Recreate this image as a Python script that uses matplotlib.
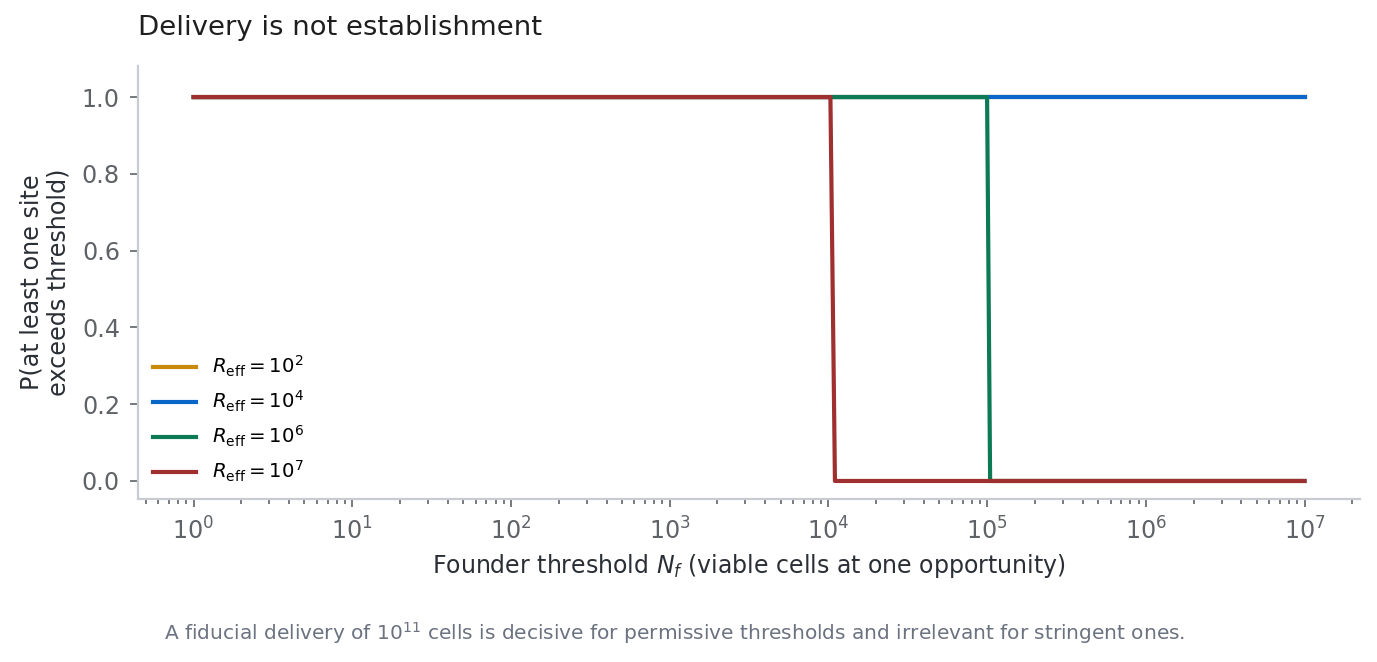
import matplotlib
matplotlib.use("Agg")
import matplotlib.pyplot as plt

# founder threshold grid points and P(at least one site exceeds threshold)
labels = [r"$R_{\rm eff} = 10^2$", r"$R_{\rm eff} = 10^4$",
          r"$R_{\rm eff} = 10^6$", r"$R_{\rm eff} = 10^7$"]
colors = ["#c98a0b", "#0b66c9", "#0b7a55", "#a03030"]

x_r2 = [1, 1e7]
p_r2 = [1.0, 1.0]
x_r4 = [1, 1e7]
p_r4 = [1.0, 1.0]
x_r6 = [1, 1.0e5, 1.045e5, 1e7]
p_r6 = [1.0, 1.0, 0.0, 0.0]
x_r7 = [1, 1.03e4, 1.1e4, 1e7]
p_r7 = [1.0, 1.0, 0.0, 0.0]

xs = [x_r2, x_r4, x_r6, x_r7]
ps = [p_r2, p_r4, p_r6, p_r7]

fig = plt.figure(figsize=(6.885, 3.31), dpi=200)
ax = fig.add_axes([0.1002, 0.2462, 0.8875, 0.6541])

for x, p, c, lab in zip(xs, ps, colors, labels):
    ax.plot(x, p, '-', color=c, lw=1.5, label=lab)

ax.set_xscale('log')
ax.set_ylim(-0.047, 1.081)
ax.set_yticks([0.0, 0.2, 0.4, 0.6, 0.8, 1.0])

spine_c = "#c8ccd2"
for s in ['top', 'right']:
    ax.spines[s].set_visible(False)
for s in ['left', 'bottom']:
    ax.spines[s].set_color(spine_c)
    ax.spines[s].set_linewidth(0.8)

ax.tick_params(axis='both', which='both', colors="#5f6368", labelsize=8.6,
               width=0.6)
ax.tick_params(axis='both', which='major', length=3)
ax.tick_params(axis='x', which='minor', length=1.8)

ax.set_xlabel(r"Founder threshold $N_f$ (viable cells at one opportunity)",
              fontsize=8.5, color="#2a2f36", labelpad=2.8)
ax.set_ylabel("P(at least one site\nexceeds threshold)", fontsize=8.6,
              color="#2a2f36", linespacing=1.15)

ax.legend(loc='lower left', frameon=False, fontsize=7.1, handlelength=2.2,
          borderaxespad=0.35, labelspacing=0.5)

fig.text(138 / 1377, 1 - 28 / 662, "Delivery is not establishment",
         fontsize=9.9, color="#1f1f1f", ha='left', va='center')
fig.text(0.4898, 1 - 633 / 662,
         r"A fiducial delivery of $10^{11}$ cells is decisive for permissive "
         r"thresholds and irrelevant for stringent ones.",
         fontsize=7.25, color="#6b7280", ha='center', va='center')

fig.savefig("out.png", dpi=200)
